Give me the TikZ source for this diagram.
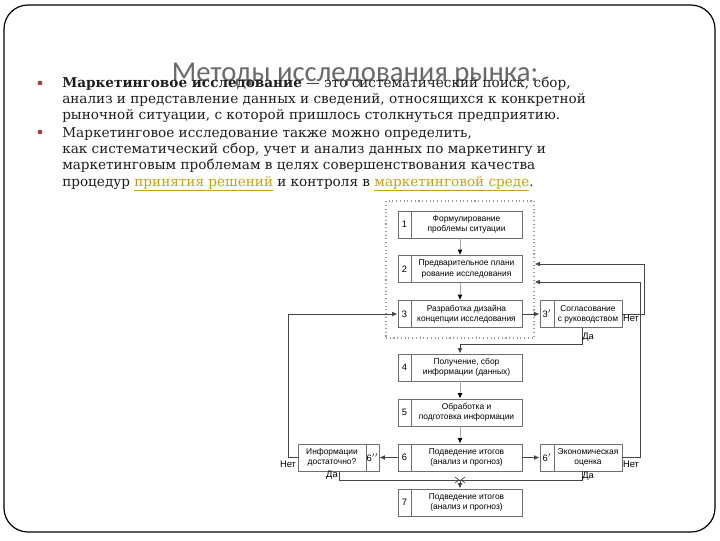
\documentclass[tikz,border=0pt]{standalone}
\usepackage{fontspec}
\setmainfont{DejaVu Serif}
\newfontfamily\titlefont{Carlito}
\newfontfamily\boxfont{Liberation Sans}
\usetikzlibrary{arrows.meta}
\definecolor{txt}{RGB}{30,30,30}
\definecolor{titlegray}{RGB}{105,105,105}
\definecolor{bulletred}{RGB}{160,70,60}
\definecolor{linkgold}{RGB}{200,160,20}
\definecolor{boxgray}{RGB}{110,110,110}
\definecolor{connc}{RGB}{70,70,70}
\tikzset{
  cell/.style={draw=boxgray, line width=0.7pt, fill=white, inner sep=0pt,
    minimum height=20.25pt, font=\boxfont\fontsize{7}{8}\selectfont},
  tbox/.style={draw=boxgray, line width=0.7pt, fill=white, inner sep=0pt, align=center,
    minimum height=20.25pt, font=\boxfont\fontsize{6.3}{7.6}\selectfont},
  conn/.style={draw=connc, line width=0.7pt, -{Latex[length=4pt,width=3.6pt]}},
  lconn/.style={draw=gray!70, line width=0.6pt, -{Latex[length=4pt,width=3.6pt,color=black]}},
  plain/.style={draw=connc, line width=0.7pt},
  lab/.style={font=\boxfont\fontsize{7}{8}\selectfont, inner sep=0pt},
  bodyline/.style={anchor=base west, inner sep=0pt, text=txt, font=\fontsize{10.2}{12}\selectfont},
  bul/.style={circle, fill=bulletred, inner sep=0pt, minimum size=3.6pt}
}
\begin{document}
\begin{tikzpicture}[x=0.75pt,y=-0.75pt]
\useasboundingbox (0,0) rectangle (720,540);
\fill[white] (0,0) rectangle (720,540);
% slide frame
\draw[line width=0.9pt, rounded corners=18pt] (4,5) rectangle (715,532);

% title
\node[text=titlegray, font=\titlefont\fontsize{21.5}{26}\selectfont, inner sep=0pt] (title) at (355,75) {Методы исследования рынка:};

% bullets and text
\node[bul] (bul1) at (40,83) {};
\node[bul] (bul2) at (40,132) {};
\node[bodyline] (l1) at (62,87) {\textbf{Маркетинговое исследование} — это систематический поиск, сбор,};
\node[bodyline] (l2) at (62,103) {анализ и представление данных и сведений, относящихся к конкретной};
\node[bodyline] (l3) at (62,119) {рыночной ситуации, с которой пришлось столкнуться предприятию.};
\node[bodyline] (l4) at (62,137) {Маркетинговое исследование также можно определить,};
\node[bodyline] (l5) at (62,153) {как систематический сбор, учет и анализ данных по маркетингу и};
\node[bodyline] (l6) at (62,169) {маркетинговым проблемам в целях совершенствования качества};
\node[bodyline] (l7) at (62,186) {процедур {\color{linkgold}\underline{принятия решений}} и контроля в {\color{linkgold}\underline{маркетинговой среде}}.};

% dotted group frame
\node[draw=gray!80, dotted, line width=0.8pt, minimum width=111pt, minimum height=102.75pt, inner sep=0pt] (grp) at (460,269.5) {};

\coordinate (cx) at (460,0);
\coordinate (dax) at (582,0);
\coordinate (dxl) at (339,0);

% main column boxes
\node[cell, minimum width=9.75pt] (n1) at (404.5,224.5) {1};
\node[tbox, minimum width=83.25pt] (b1) at (466.5,224.5) {Формулирование\\проблемы ситуации};
\node[cell, minimum width=9.75pt] (n2) at (404.5,269) {2};
\node[tbox, minimum width=83.25pt] (b2) at (466.5,269) {Предварительное плани\\рование исследования};
\node[cell, minimum width=9.75pt] (n3) at (404.5,314) {3};
\node[tbox, minimum width=83.25pt] (b3) at (466.5,314) {Разработка дизайна\\концепции исследования};
\node[cell, minimum width=9.75pt] (n4) at (404.5,367.5) {4};
\node[tbox, minimum width=83.25pt] (b4) at (466.5,367.5) {Получение, сбор\\информации (данных)};
\node[cell, minimum width=9.75pt] (n5) at (404.5,412.5) {5};
\node[tbox, minimum width=83.25pt] (b5) at (466.5,412.5) {Обработка и\\подготовка информации};
\node[cell, minimum width=9.75pt] (n6) at (404.5,457.5) {6};
\node[tbox, minimum width=83.25pt] (b6) at (466.5,457.5) {Подведение итогов\\(анализ и прогноз)};
\node[cell, minimum width=9.75pt] (n7) at (404.5,502.5) {7};
\node[tbox, minimum width=83.25pt] (b7) at (466.5,502.5) {Подведение итогов\\(анализ и прогноз)};

% side boxes
\node[cell, minimum width=10.5pt] (n3p) at (547,314) {3$'$};
\node[tbox, minimum width=51pt] (b3p) at (588,314) {Согласование\\с руководством};
\node[cell, minimum width=10.5pt] (n6p) at (547,457.5) {6$'$};
\node[tbox, minimum width=51pt] (b6p) at (588,457.5) {Экономическая\\оценка};
\node[tbox, minimum width=51pt] (b6pp) at (332,457.5) {Информации\\достаточно?};
\node[cell, minimum width=9.75pt] (n6pp) at (372.5,457.5) {6$''$};

% connectors in main column
\draw[lconn] (b1.south -| cx) -- (b2.north -| cx);
\draw[lconn] (b2.south -| cx) -- (b3.north -| cx);
\draw[lconn] (b4.south -| cx) -- (b5.north -| cx);
\draw[lconn] (b5.south -| cx) -- (b6.north -| cx);

\draw[conn] (b3.east) -- (n3p.west);
\coordinate (j1) at (460,344);
\draw[conn] (b3p.south -| dax) |- (j1) -- (b4.north -| cx);

\coordinate (r1) at (644,264);
\coordinate (r2) at (640,282);
\draw[conn] (b3p.east) -| (r1) -- (r1 -| grp.east);
\draw[conn] (b6p.east) -| (r2) -- (r2 -| grp.east);

\draw[conn] (n6.west) -- (n6pp.east);
\draw[conn] (b6.east) -- (n6p.west);
\draw[conn] (b6pp.west) -- ++(-9,0) |- (n3.west);

\coordinate (m) at (460,480);
\draw[plain] (b6pp.south -| dxl) |- (m);
\draw[plain] (b6p.south -| dax) |- (m);
\draw[plain, line width=0.5pt] ([shift={(-5,-3)}]m) -- ([shift={(-1,0)}]m) -- ([shift={(-5,3)}]m);
\draw[plain, line width=0.5pt] ([shift={(5,-3)}]m) -- ([shift={(1,0)}]m) -- ([shift={(5,3)}]m);
\draw[conn] (m) -- (b7.north -| cx);

% labels
\node[lab] (no1) at (631,318) {Нет};
\node[lab] (da1) at (588,337) {Да};
\node[lab] (no2) at (631,464) {Нет};
\node[lab] (da2) at (588,476) {Да};
\node[lab] (no3) at (288,464) {Нет};
\node[lab] (da3) at (332,475) {Да};
\end{tikzpicture}
\end{document}
